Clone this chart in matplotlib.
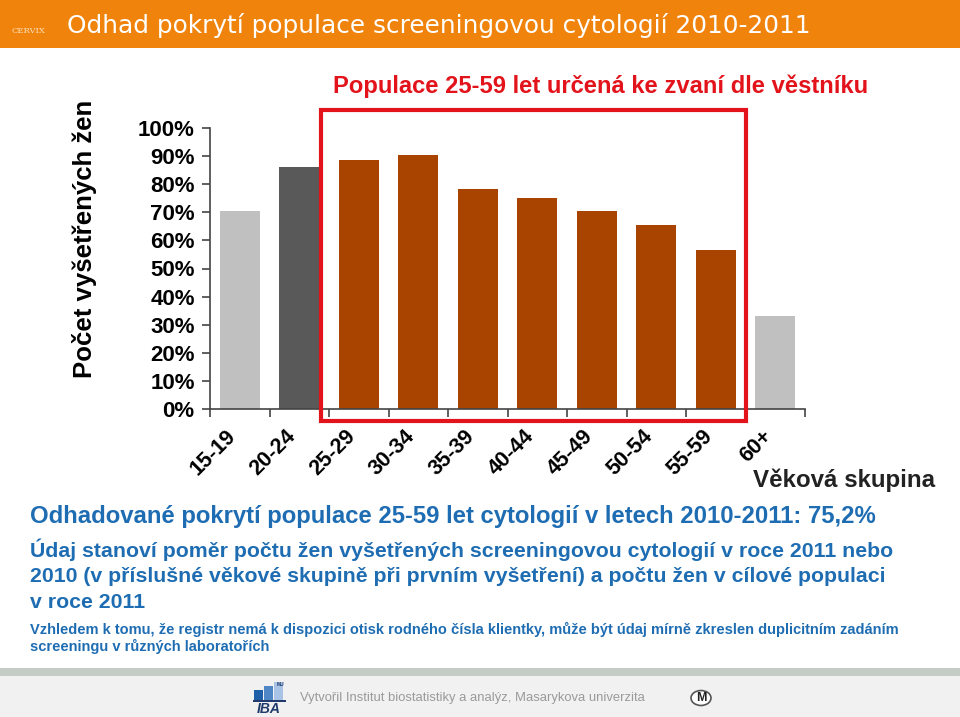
import numpy as np
import matplotlib
matplotlib.use("Agg")
import matplotlib.pyplot as plt
import matplotlib.transforms as mtransforms
from matplotlib.patches import Rectangle, Circle

plt.rcParams['font.family'] = ['Liberation Sans', 'DejaVu Sans']

# data
age_groups = ['15-19', '20-24', '25-29', '30-34', '35-39', '40-44', '45-49', '50-54', '55-59', '60+']
coverage = [70.6, 86.0, 88.5, 90.4, 78.4, 75.1, 70.4, 65.4, 56.6, 33.1]
bar_colors = ['#c0c0c0', '#595959'] + ['#a84300'] * 8
bar_colors[-1] = '#c0c0c0'
yticks = list(range(0, 101, 10))

title = 'Odhad pokrytí populace screeningovou cytologií 2010-2011'
box_title = 'Populace 25-59 let určená ke zvaní dle věstníku'
ylabel = 'Počet vyšetřených žen'
xlabel = 'Věková skupina'
summary = 'Odhadované pokrytí populace 25-59 let cytologií v letech 2010-2011: 75,2%'
note_lines = ['Údaj stanoví poměr počtu žen vyšetřených screeningovou cytologií v roce 2011 nebo',
              '2010 (v příslušné věkové skupině při prvním vyšetření) a počtu žen v cílové populaci',
              'v roce 2011']
small_lines = ['Vzhledem k tomu, že registr nemá k dispozici otisk rodného čísla klientky, může být údaj mírně zkreslen duplicitním zadáním',
               'screeningu v různých laboratořích']
footer = 'Vytvořil Institut biostatistiky a analýz, Masarykova univerzita'

W, H = 960, 717
fig = plt.figure(figsize=(W / 100, H / 100), dpi=100)
fig.patch.set_facecolor('white')

def fx(px):
    return px / W

def fy(py):
    return 1 - py / H

blue = '#1e6db3'

# header bar
fig.patches.append(Rectangle((0, fy(48)), 1, 48 / H, transform=fig.transFigure,
                             facecolor='#f0830b', edgecolor='none', zorder=0))
fig.text(fx(67), fy(25), title, color='white', fontsize=17.8, family='DejaVu Sans',
         ha='left', va='center')
fig.text(fx(28), fy(31), 'CERVIX', color='#fde3c0', fontsize=6, family='DejaVu Serif',
         ha='center', va='center')

# footer
fig.patches.append(Rectangle((0, 0), 1, fy(668), transform=fig.transFigure,
                             facecolor='#f1f1f1', edgecolor='none', zorder=0))
fig.patches.append(Rectangle((0, fy(676)), 1, 8 / H, transform=fig.transFigure,
                             facecolor='#c5ccc7', edgecolor='none', zorder=0))
for i, (hh, c) in enumerate([(10, '#1f5fa8'), (14, '#4f86c6'), (18, '#a9c3e6')]):
    fig.patches.append(Rectangle((fx(254 + i * 10), fy(700)), 9 / W, hh / H,
                                 transform=fig.transFigure, facecolor=c, edgecolor='none'))
fig.patches.append(Rectangle((fx(253), fy(701.5)), 33 / W, 1.5 / H, transform=fig.transFigure,
                             facecolor='#1f3a6b', edgecolor='none'))
fig.text(fx(269), fy(709), 'IBA', color='#1f3a6b', fontsize=10, fontweight='bold',
         fontstyle='italic', ha='center', va='center')
fig.text(fx(280), fy(684), 'MU', color='#1f3a6b', fontsize=3.5, fontweight='bold',
         ha='center', va='center')
fig.text(fx(300), fy(698), footer, color='#9a9a9a', fontsize=9.4, ha='left', va='center')
fig.patches.append(Circle((fx(701), fy(698)), 10 / W, transform=fig.transFigure,
                          facecolor='white', edgecolor='#555555', linewidth=1.2))
fig.text(fx(701), fy(698), 'M', color='#222222', fontsize=9, fontweight='bold',
         ha='center', va='center')

# chart
ax = fig.add_axes([fx(210), fy(409), 595 / W, 281 / H])
x = np.arange(len(age_groups))
ax.bar(x, coverage, width=0.67, color=bar_colors, zorder=2)
ax.set_xlim(-0.5, len(age_groups) - 0.5)
ax.set_ylim(0, 100)
ax.set_yticks(yticks)
ax.set_yticklabels([f'{v}%' for v in yticks], fontsize=16, fontweight='bold')
ax.set_xticks(x)
ax.set_xticklabels(age_groups, fontsize=15.5, fontweight='bold', rotation=45,
                   ha='right', rotation_mode='anchor')
ax.set_xticks(np.arange(len(age_groups) + 1) - 0.5, minor=True)
ax.tick_params(axis='x', which='major', length=0, pad=12)
ax.tick_params(axis='x', which='minor', length=6, width=1.2, color='#444444', direction='out')
ax.tick_params(axis='y', length=6, width=1.2, color='#444444', pad=5)
offset = mtransforms.ScaledTranslation(-14 / 100, 0, fig.dpi_scale_trans)
for lab in ax.get_xticklabels():
    lab.set_transform(lab.get_transform() + offset)
for s in ['top', 'right']:
    ax.spines[s].set_visible(False)
for s in ['left', 'bottom']:
    ax.spines[s].set_color('#444444')
    ax.spines[s].set_linewidth(1.2)

ax.set_ylabel(ylabel, fontsize=18.5, fontweight='bold')
ax.yaxis.set_label_coords(-(210 - 97) / 595, (409 - 239) / 281)

# red box around the invited population
i0 = age_groups.index('25-29')
i1 = age_groups.index('55-59')
trans = mtransforms.blended_transform_factory(ax.transData, ax.transAxes)
ax.add_patch(Rectangle((i0 - 0.64, -0.042), (i1 + 0.5) - (i0 - 0.64), 1.106,
                       transform=trans, fill=False, edgecolor='#e3131b', linewidth=3,
                       clip_on=False, zorder=3))
fig.text(fx(601), fy(86), box_title, color='#e3131b', fontsize=17.1, fontweight='bold',
         ha='center', va='center')
fig.text(fx(935), fy(480), xlabel, color='#222222', fontsize=17.4, fontweight='bold',
         ha='right', va='center')

# notes
fig.text(fx(30), fy(517), summary, color=blue, fontsize=17.2, fontweight='bold',
         ha='left', va='center')
for k, line in enumerate(note_lines):
    fig.text(fx(30), fy(550 + 26 * k), line, color=blue, fontsize=15.35, fontweight='bold',
             ha='left', va='center')
for k, line in enumerate(small_lines):
    fig.text(fx(30), fy(629 + 17 * k), line, color=blue, fontsize=10.5, fontweight='bold',
             ha='left', va='center')

fig.savefig('out.png', dpi=100)
